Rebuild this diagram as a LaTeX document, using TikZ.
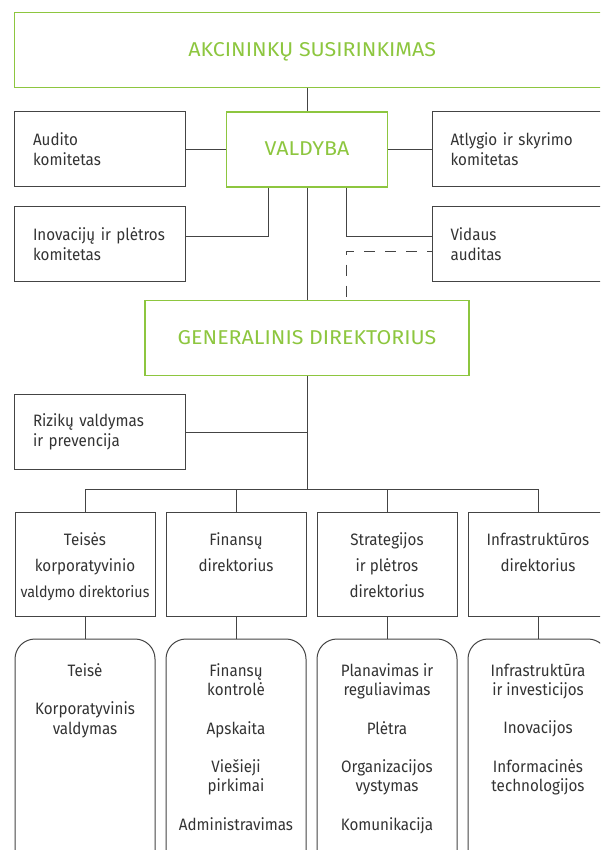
\documentclass[tikz,border=0pt]{standalone}
\usepackage{fontspec}
\setmainfont{Fira Sans}[FakeStretch=0.92]
\newfontfamily\headfont{Fira Sans}[FakeStretch=1.07]
\usepackage{tikz}

\definecolor{leaf}{RGB}{141,198,63}
\definecolor{ink}{RGB}{51,51,51}
\definecolor{rule}{RGB}{68,68,68}

\begin{document}
\begin{tikzpicture}[
  x=1pt,y=-1pt,
  greenbox/.style={rectangle,draw=leaf,line width=1.3pt,text=leaf,
    font=\headfont\fontsize{20}{24}\selectfont,minimum height=75pt,
    text height=13pt,text depth=0pt},
  sidebox/.style={rectangle,draw=rule,line width=1pt,text=ink,
    font=\fontsize{16.5}{20}\selectfont,align=left,text width=134pt,
    inner xsep=18.5pt,minimum height=75pt},
  dirbox/.style={rectangle,draw=rule,line width=1pt,minimum width=140pt,minimum height=104pt},
  unitbox/.style={rectangle,draw=rule,line width=1pt,rounded corners=20pt,
    minimum width=140pt,minimum height=241pt},
  dirtext/.style={anchor=north,align=center,text=ink,inner sep=0pt,
    font=\fontsize{16.5}{26}\selectfont},
  unittext/.style={anchor=north,align=center,text=ink,inner sep=0pt,
    font=\fontsize{16.5}{19.2}\selectfont},
  link/.style={draw=rule,line width=1pt}
]
\clip (0,0) rectangle (600,850);

% top of the structure
\node[greenbox,minimum width=595.5pt] (asm) at (312.2,49.8) {AKCININKŲ SUSIRINKIMAS};
\node[greenbox,minimum width=161pt] (valdyba) at (307,149.5) {VALDYBA};
\node[sidebox] (audito) at (100,149.5) {Audito\\komitetas};
\node[sidebox] (atlygio) at (517.5,149.5) {Atlygio ir skyrimo\\komitetas};
\node[sidebox] (inovacijos) at (100,244) {Inovacijų ir plėtros\\komitetas};
\node[sidebox] (vidaus) at (517.5,244) {Vidaus\\auditas};
\node[greenbox,minimum width=324pt] (gd) at (307,338) {GENERALINIS DIREKTORIUS};
\node[sidebox] (rizikos) at (100,432) {Rizikų valdymas\\ir prevencija};
\coordinate (bus) at (307,489.5);

\draw[link] (asm.south -| valdyba.north) -- (valdyba.north);
\draw[link] (audito) -- (valdyba);
\draw[link] (valdyba) -- (atlygio);
\draw[link] ([xshift=-39pt]valdyba.south) |- ([yshift=8pt]inovacijos.east);
\draw[link] ([xshift=39pt]valdyba.south) |- ([yshift=8pt]vidaus.west);
\draw[link] (valdyba.south) -- (gd.north);
\draw[link,dash pattern=on 11pt off 10pt,dash phase=6pt]
  ([yshift=-7pt]vidaus.west) -| ([xshift=39pt]gd.north);
\draw[link] (gd.south) -- (bus);
\draw[link] (rizikos.east) -- (rizikos.east -| gd.south);

% directors and their units
\node[dirbox] (dir1) at (85,564) {};
\node[dirbox] (dir2) at (236,564) {};
\node[dirbox] (dir3) at (387,564) {};
\node[dirbox] (dir4) at (538,564) {};
\node[dirtext] (dir1t) at (85,532.5) {Teisės\\korporatyvinio\\{\fontsize{15.5}{26}\selectfont valdymo direktorius}};
\node[dirtext] (dir2t) at (236,532.5) {Finansų\\direktorius};
\node[dirtext] (dir3t) at (387,532.5) {Strategijos\\ir plėtros\\direktorius};
\node[dirtext] (dir4t) at (538,532.5) {Infrastruktūros\\direktorius};

\node[unitbox] (unit1) at (85,759.5) {};
\node[unitbox] (unit2) at (236,759.5) {};
\node[unitbox] (unit3) at (387,759.5) {};
\node[unitbox] (unit4) at (538,759.5) {};
\node[unittext] (unit1t) at (85,663.5) {Teisė\\[19.2pt]Korporatyvinis\\valdymas};
\node[unittext] (unit2t) at (236,663.5) {Finansų\\kontrolė\\[19.2pt]Apskaita\\[19.2pt]Viešieji\\pirkimai\\[19.2pt]Administravimas};
\node[unittext] (unit3t) at (387,663.5) {Planavimas ir\\reguliavimas\\[19.2pt]Plėtra\\[19.2pt]Organizacijos\\vystymas\\[19.2pt]Komunikacija};
\node[unittext] (unit4t) at (538,663.5) {Infrastruktūra\\ir investicijos\\[19.2pt]Inovacijos\\[19.2pt]Informacinės\\technologijos};

\foreach \d in {1,...,4} {
  \draw[link] (dir\d.north) |- (bus);
  \draw[link] (dir\d.south) -- (unit\d.north);
}
\end{tikzpicture}
\end{document}
